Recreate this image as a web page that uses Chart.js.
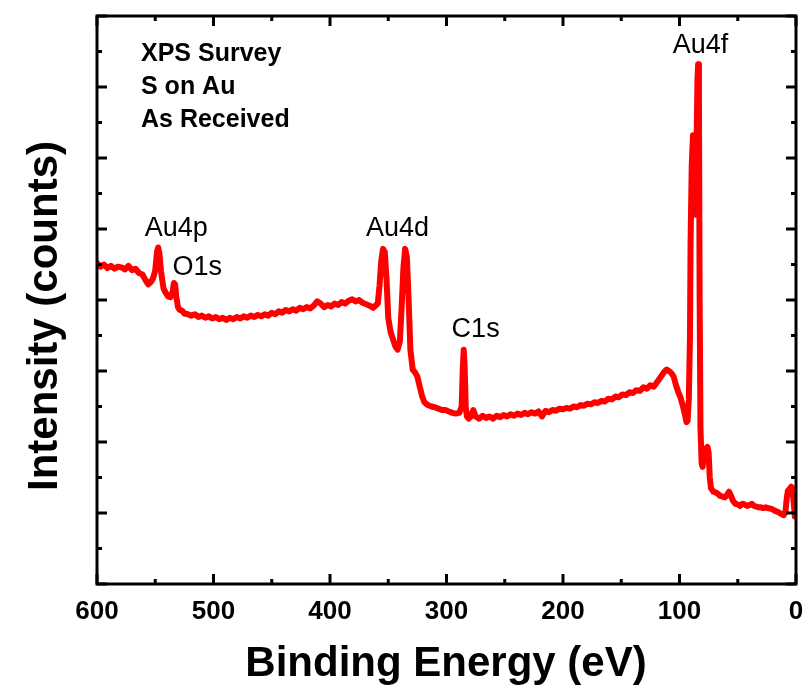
<!DOCTYPE html>
<html>
<head>
<meta charset="utf-8">
<script src="https://cdn.jsdelivr.net/npm/chart.js@4.4.1/dist/chart.umd.min.js"></script>
<style>
  body { margin: 0; background: #fff; }
  canvas { display: block; }
</style>
</head>
<body>
<canvas id="xpsChart" width="803" height="686"></canvas>
<script>
// Binding energy (eV) and intensity (arb. units) of the survey scan
const energies = [
  600, 597, 594, 591, 588, 585, 582, 579, 576, 573, 570, 567, 564, 561, 558, 556, 554, 552, 550, 548.5,
  547.5, 546.5, 545, 543, 541, 539, 537, 535, 534, 533, 532, 530.5, 529, 527, 525, 522, 519, 516, 513, 510,
  507, 504, 501, 498, 495, 492, 489, 486, 483, 480, 477, 474, 471, 468, 465, 462, 459, 456, 453, 450,
  447, 444, 441, 438, 435, 432, 429, 426, 423, 420, 417, 414, 411, 408, 405, 402, 399, 396, 393, 390,
  387, 384, 381, 378, 375, 372, 369, 366, 363, 361, 359, 357.5, 356, 354.5, 353, 351.5, 350, 348, 346, 344,
  342, 340, 338.5, 337, 335.5, 334, 332.5, 331, 329, 327, 325, 323, 321, 319, 316, 313, 310, 307, 304, 301,
  298, 295, 292, 289, 287, 286, 285.2, 284.5, 283.5, 282.5, 281, 279, 277, 275, 272, 269, 266, 263, 260, 257,
  254, 251, 248, 245, 242, 239, 236, 233, 230, 227, 224, 221, 218, 215, 212, 209, 206, 203, 200, 197,
  194, 191, 188, 185, 182, 179, 176, 173, 170, 167, 164, 161, 158, 155, 152, 149, 146, 143, 140, 137,
  134, 131, 128, 125, 122, 119, 116, 113, 111, 109, 107, 105, 103, 101, 99, 97, 95, 94, 93, 92,
  91, 90.5, 89.5, 88.4, 87.6, 86.8, 86.2, 85.5, 84.6, 84, 83.3, 82.7, 82, 81, 80.2, 79, 77.5, 76, 75, 74,
  73, 71, 69, 67, 65, 63, 61, 59, 57.5, 56, 54, 52, 50, 48, 46, 44, 42, 40, 38, 36,
  34, 32, 30, 28, 26, 24, 22, 20, 18, 16, 14, 12, 10.5, 9, 8, 7, 5.5, 4, 3, 2, 1
];
const intensity = [
  4.52, 4.47, 4.50, 4.45, 4.48, 4.44, 4.47, 4.46, 4.43, 4.48, 4.42, 4.44, 4.38, 4.36, 4.27, 4.22, 4.25, 4.30, 4.42, 4.68,
  4.74, 4.66, 4.40, 4.17, 4.10, 4.05, 4.04, 4.12, 4.24, 4.22, 4.05, 3.90, 3.86, 3.85, 3.81, 3.80, 3.78, 3.80, 3.76, 3.78,
  3.75, 3.77, 3.74, 3.76, 3.73, 3.75, 3.72, 3.75, 3.73, 3.76, 3.74, 3.77, 3.75, 3.78, 3.76, 3.79, 3.77, 3.80, 3.78, 3.82,
  3.80, 3.84, 3.82, 3.86, 3.84, 3.87, 3.85, 3.89, 3.87, 3.90, 3.88, 3.92, 3.98, 3.95, 3.90, 3.93, 3.91, 3.95, 3.93, 3.97,
  3.95, 3.99, 4.01, 3.98, 4.00, 3.96, 3.94, 3.92, 3.89, 3.92, 3.95, 4.20, 4.55, 4.72, 4.68, 4.30, 3.75, 3.55, 3.45, 3.35,
  3.30, 3.42, 3.90, 4.45, 4.72, 4.60, 4.00, 3.30, 3.02, 2.98, 2.92, 2.78, 2.65, 2.56, 2.52, 2.50, 2.49, 2.47, 2.45, 2.45,
  2.43, 2.41, 2.40, 2.41, 2.50, 3.05, 3.30, 3.10, 2.50, 2.36, 2.33, 2.36, 2.45, 2.36, 2.33, 2.37, 2.34, 2.36, 2.33, 2.37,
  2.35, 2.38, 2.36, 2.39, 2.37, 2.40, 2.38, 2.41, 2.39, 2.42, 2.40, 2.43, 2.36, 2.44, 2.42, 2.45, 2.44, 2.47, 2.46, 2.48,
  2.47, 2.50, 2.49, 2.52, 2.51, 2.54, 2.53, 2.56, 2.55, 2.58, 2.57, 2.61, 2.60, 2.64, 2.63, 2.67, 2.66, 2.70, 2.69, 2.73,
  2.72, 2.77, 2.75, 2.80, 2.78, 2.85, 2.92, 2.99, 3.02, 3.00, 2.97, 2.92, 2.80, 2.70, 2.62, 2.50, 2.36, 2.28, 2.30, 2.60,
  3.50, 4.80, 5.90, 6.32, 6.22, 5.60, 5.20, 6.00, 7.10, 7.32, 6.80, 4.00, 2.20, 1.70, 1.65, 1.80, 1.90, 1.93, 1.85, 1.50,
  1.35, 1.30, 1.29, 1.27, 1.24, 1.23, 1.22, 1.26, 1.30, 1.25, 1.17, 1.13, 1.12, 1.10, 1.13, 1.12, 1.10, 1.11, 1.13, 1.10,
  1.09, 1.08, 1.08, 1.07, 1.08, 1.07, 1.06, 1.05, 1.03, 1.02, 1.00, 0.98, 0.97, 1.02, 1.20, 1.31, 1.34, 1.37, 1.33, 1.15, 0.95
];

// Peak labels, placed in data coordinates
const peakNames = ['Au4p', 'O1s', 'Au4d', 'C1s', 'Au4f'];
const peakLabelX = [532, 514, 342, 275, 82];
const peakLabelY = [5.01, 4.46, 5.01, 3.58, 7.59];

const infoLines = ['XPS Survey', 'S on Au', 'As Received'];

const FONT = "'Liberation Sans', Arial, Helvetica, sans-serif";

// frame, inward ticks on all four sides and the text
const framePlugin = {
  id: 'framePlugin',
  afterDatasetsDraw(chart) {
    const ctx = chart.ctx;
    const a = chart.chartArea;
    const xs = chart.scales.x;
    const ys = chart.scales.y;
    ctx.save();
    ctx.strokeStyle = '#000';
    ctx.lineWidth = 3;
    ctx.lineCap = 'butt';
    for (let v = 0; v <= 600; v += 50) {
      const px = xs.getPixelForValue(v);
      const len = v % 100 === 0 ? 10 : 5;
      ctx.beginPath();
      ctx.moveTo(px, a.bottom); ctx.lineTo(px, a.bottom - len);
      ctx.moveTo(px, a.top); ctx.lineTo(px, a.top + len);
      ctx.stroke();
    }
    for (let v = 0; v <= 8; v += 0.5) {
      const py = ys.getPixelForValue(v);
      const len = Number.isInteger(v) ? 10 : 5;
      ctx.beginPath();
      ctx.moveTo(a.left, py); ctx.lineTo(a.left + len, py);
      ctx.moveTo(a.right, py); ctx.lineTo(a.right - len, py);
      ctx.stroke();
    }
    ctx.strokeRect(a.left, a.top, a.right - a.left, a.bottom - a.top);

    ctx.fillStyle = '#000';
    ctx.textBaseline = 'middle';

    ctx.font = 'bold 25px ' + FONT;
    ctx.textAlign = 'left';
    infoLines.forEach((t, i) => ctx.fillText(t, 141, 54 + i * 33));

    ctx.font = '27px ' + FONT;
    ctx.textAlign = 'center';
    peakNames.forEach((t, i) => {
      ctx.fillText(t, xs.getPixelForValue(peakLabelX[i]), ys.getPixelForValue(peakLabelY[i]));
    });

    ctx.font = 'bold 42px ' + FONT;
    ctx.fillText('Binding Energy (eV)', 446, 664);
    ctx.translate(45, 316);
    ctx.rotate(-Math.PI / 2);
    ctx.fillText('Intensity (counts)', 0, 0);
    ctx.restore();
  }
};

new Chart(document.getElementById('xpsChart'), {
  type: 'line',
  data: {
    datasets: [{
      data: energies.map((e, i) => ({ x: e, y: intensity[i] })),
      borderColor: '#ff0000',
      borderWidth: 6,
      borderJoinStyle: 'round',
      borderCapStyle: 'round',
      pointRadius: 0,
      tension: 0,
      fill: false
    }]
  },
  options: {
    responsive: false,
    animation: false,
    layout: { padding: { left: 0, right: 7, top: 16, bottom: 0 } },
    plugins: { legend: { display: false }, tooltip: { enabled: false } },
    scales: {
      x: {
        type: 'linear',
        reverse: true,
        min: 0,
        max: 600,
        grid: { display: false },
        border: { display: false },
        ticks: {
          stepSize: 100,
          padding: 4,
          maxRotation: 0,
          color: '#000',
          font: { family: FONT, size: 26, weight: 'bold' }
        },
        afterFit(scale) {
          scale.height = 102;
          scale.paddingLeft = 0;
          scale.paddingRight = 0;
        }
      },
      y: {
        min: 0,
        max: 8,
        grid: { display: false },
        border: { display: false },
        ticks: { display: false },
        afterFit(scale) { scale.width = 97; }
      }
    }
  },
  plugins: [framePlugin]
});
</script>
</body>
</html>
